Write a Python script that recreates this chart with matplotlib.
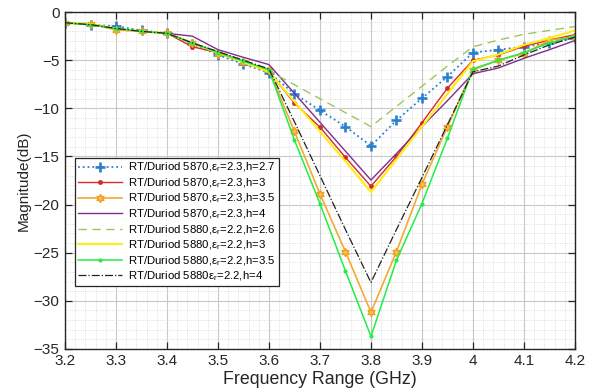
import numpy as np
import matplotlib
matplotlib.use('Agg')
import matplotlib.pyplot as plt
from matplotlib.ticker import MultipleLocator

plt.rcParams['font.family'] = ['Liberation Sans', 'DejaVu Sans']
plt.rcParams['mathtext.fontset'] = 'custom'
plt.rcParams['mathtext.rm'] = 'Liberation Sans'
plt.rcParams['mathtext.it'] = 'Liberation Sans'

freq = [3.2, 3.25, 3.3, 3.35, 3.4, 3.45, 3.5, 3.55, 3.6, 3.65, 3.7,
        3.75, 3.8, 3.85, 3.9, 3.95, 4.0, 4.05, 4.1, 4.15, 4.2]

s5870_h27 = [-1.1, -1.3, -1.45, -1.9, -2.2, -3.3, -4.45, -5.4, -6.3, -8.5, -10.2,
             -11.9, -13.9, -11.25, -8.95, -6.7, -4.2, -3.9, -3.6, -3.2, -2.7]
s5870_h3 = [-1.1, -1.3, -1.7, -2.0, -2.2, -3.6, -4.2, -5.2, -6.2, -9.45, -11.95,
            -15.1, -18.1, -15.0, -11.5, -7.9, -5.0, -4.45, -3.55, -2.9, -2.35]
s5870_h35 = [-1.1, -1.2, -1.85, -2.0, -2.2, -3.2, -4.3, -5.2, -6.0, -12.4, -18.9,
             -24.9, -31.2, -24.9, -17.9, -11.9, -6.0, -5.0, -4.3, -2.9, -2.6]
s5870_h4 = [-1.1, -1.3, -1.7, -2.0, -2.2, -2.5, -3.9, -4.7, -5.45, -8.45, -11.45,
            -14.45, -17.45, -14.7, -11.9, -9.2, -6.4, -5.8, -4.8, -3.9, -2.95]
s5880_h26 = [-1.1, -1.3, -1.7, -2.0, -2.2, -3.2, -4.1, -5.1, -6.1, -7.55, -9.0,
             -10.45, -11.9, -9.8, -7.7, -5.6, -3.6, -2.9, -2.3, -1.9, -1.5]
s5880_h3 = [-1.1, -1.25, -1.7, -2.0, -2.2, -3.2, -4.2, -5.2, -6.2, -9.3, -12.4,
            -15.5, -18.7, -15.3, -11.9, -8.5, -5.1, -4.4, -3.4, -2.7, -1.9]
s5880_h35 = [-1.1, -1.3, -1.7, -2.0, -2.2, -3.2, -4.2, -5.1, -6.0, -13.3, -19.9,
             -26.9, -33.7, -25.8, -19.9, -13.1, -5.9, -5.0, -4.2, -3.2, -2.5]
s5880_h4 = [-1.1, -1.3, -1.7, -2.0, -2.2, -3.2, -4.1, -5.0, -5.9, -11.4, -17.0,
            -22.6, -28.1, -22.6, -17.2, -11.7, -6.2, -5.6, -4.45, -3.4, -2.6]

labels = ['RT/Duriod 5870,ε$_r$=2.3,h=2.7',
          'RT/Duriod 5870,ε$_r$=2.3,h=3',
          'RT/Duriod 5870,ε$_r$=2.3,h=3.5',
          'RT/Duriod 5870,ε$_r$=2.3,h=4',
          'RT/Duriod 5880,ε$_r$=2.2,h=2.6',
          'RT/Duriod 5880,ε$_r$=2.2,h=3',
          'RT/Duriod 5880,ε$_r$=2.2,h=3.5',
          'RT/Duriod 5880ε$_r$=2.2,h=4']

fig = plt.figure(figsize=(6.02, 3.92), dpi=100)
ax = fig.add_axes([0.108, 0.110, 0.847, 0.859])

ax.plot(freq, s5870_h27, ':', color='#2a7fcf', lw=1.3, marker='+', ms=7.5, mew=1.9,
        label=labels[0])
ax.plot(freq, s5870_h3, '-', color='#d42a2a', lw=1.0, marker='o', ms=2.5,
        label=labels[1])
ax.plot(freq, s5870_h35, '-', color='#f5a833', lw=1.2, marker=(6, 1, 0), ms=6,
        mfc='#f7c35a', mec='#eea020', label=labels[2])
ax.plot(freq, s5870_h4, '-', color='#7e2f8e', lw=1.0, label=labels[3])
ax.plot(freq, s5880_h26, '--', color='#99c85a', lw=1.0, dashes=(6, 4), label=labels[4])
ax.plot(freq, s5880_h3, '-', color='#ffee11', lw=1.5, label=labels[5])
ax.plot(freq, s5880_h35, '-', color='#22ee44', lw=1.1, marker='o', ms=2,
        label=labels[6])
ax.plot(freq, s5880_h4, '-.', color='#222222', lw=0.9, label=labels[7])

ax.set_xlim(3.2, 4.2)
ax.set_ylim(-35, 0)
ax.xaxis.set_major_locator(MultipleLocator(0.1))
ax.xaxis.set_minor_locator(MultipleLocator(0.02))
ax.yaxis.set_major_locator(MultipleLocator(5))
ax.yaxis.set_minor_locator(MultipleLocator(1))
ax.set_xticklabels([f'{v:g}' for v in ax.get_xticks()])

ax.grid(which='major', color='#c8c8c8', lw=0.8, ls='-')
ax.grid(which='minor', color='#d4d4d4', lw=0.6, ls=':')
ax.tick_params(which='major', direction='in', length=5, width=0.9, top=True, right=True,
               labelsize=11, colors='#262626', pad=4)
ax.tick_params(which='minor', length=0)
for sp in ax.spines.values():
    sp.set_linewidth(1.0)
    sp.set_color('#262626')

ax.set_xlabel('Frequency Range (GHz)', fontsize=12.8, color='#262626', labelpad=2)
ax.set_ylabel('Magnitude(dB)', fontsize=11, color='#262626', labelpad=2)

leg = ax.legend(loc='upper left', bbox_to_anchor=(0.02, 0.567), borderaxespad=0,
                fontsize=8.2, handlelength=3.9, labelspacing=0.17, borderpad=0.25,
                handletextpad=0.5, fancybox=False, framealpha=1, edgecolor='#262626')
leg.get_frame().set_linewidth(0.9)

fig.savefig('out.png', dpi=100)
